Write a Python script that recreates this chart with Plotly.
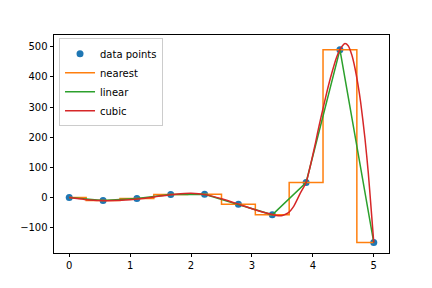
import plotly.graph_objects as go

# data points
x_pts = [0.0, 0.5556, 1.1111, 1.6667, 2.2222, 2.7778, 3.3333, 3.8889, 4.4444, 5.0]
y_pts = [0, -10, -3, 10, 11, -22, -57, 50, 490, -149]

# cubic curve values
x_cub = [0, 0.25, 0.5, 0.75, 1.0, 1.25, 1.5, 1.75, 2.0, 2.25, 2.5, 2.75, 3.0, 3.25,
         3.4, 3.5, 3.6, 3.68, 3.79, 3.8889, 3.95, 4.0, 4.045, 4.1, 4.17, 4.24, 4.31, 4.39,
         4.4444, 4.49, 4.527, 4.58, 4.64, 4.69, 4.74, 4.785, 4.856, 4.91, 4.954, 5.0]
y_cub = [0, -6, -10, -10, -7, -2, 5, 11, 14, 9, -4, -20, -37, -52,
         -59, -59, -50, -31, 13, 50, 98, 142, 183, 236, 298, 358, 412, 465,
         490, 504, 510, 503, 472, 430, 375, 315, 195, 82, -30, -149]

fig = go.Figure()
fig.add_trace(go.Scatter(x=x_pts, y=y_pts, mode="markers", name="data points",
                         marker=dict(color="#1f77b4", size=7)))
fig.add_trace(go.Scatter(x=x_pts, y=y_pts, mode="lines", name="nearest",
                         line=dict(color="#ff7f0e", width=1.5, shape="hvh")))
fig.add_trace(go.Scatter(x=x_pts, y=y_pts, mode="lines", name="linear",
                         line=dict(color="#2ca02c", width=1.5)))
fig.add_trace(go.Scatter(x=x_cub, y=y_cub, mode="lines", name="cubic",
                         line=dict(color="#d62728", width=1.5, shape="spline", smoothing=0.6)))

axis_common = dict(showline=True, linecolor="black", linewidth=0.8, mirror=True,
                   ticks="outside", ticklen=3.5, tickwidth=0.8, tickcolor="black",
                   showgrid=False, zeroline=False,
                   tickfont=dict(family="DejaVu Sans", size=10, color="black"))

fig.update_layout(
    width=432, height=288,
    margin=dict(l=54, r=43, t=35, b=35),
    paper_bgcolor="white", plot_bgcolor="white",
    font=dict(family="DejaVu Sans", size=10, color="black"),
    xaxis=dict(range=[-0.25, 5.25], tickvals=[0, 1, 2, 3, 4, 5], **axis_common),
    yaxis=dict(range=[-183.5, 538.5], tickvals=[-100, 0, 100, 200, 300, 400, 500], **axis_common),
    legend=dict(x=0.015, y=0.985, xanchor="left", yanchor="top",
                bgcolor="rgba(255,255,255,0.8)", bordercolor="#cccccc", borderwidth=1,
                font=dict(family="DejaVu Sans", size=10, color="black"),
                itemwidth=30, tracegroupgap=0),
    showlegend=True,
)

fig.write_html("out.html")
